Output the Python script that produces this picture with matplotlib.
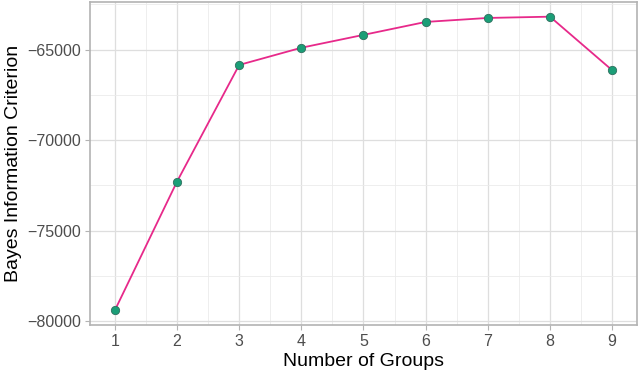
import matplotlib
matplotlib.use("Agg")
import matplotlib.pyplot as plt
from matplotlib.ticker import MultipleLocator, FixedLocator

plt.rcParams['font.family'] = ['Liberation Sans', 'DejaVu Sans']

groups = [1, 2, 3, 4, 5, 6, 7, 8, 9]
bic = [-79398, -72290, -65850, -64900, -64190, -63475, -63255, -63185, -66140]
yticks = [-80000, -75000, -70000, -65000]

fig = plt.figure(figsize=(6.4, 3.75), dpi=100)
ax = fig.add_axes([90/640, 1-325/375, (637-90)/640, (325-2)/375])

rng = max(bic) - min(bic)
ax.set_ylim(min(bic) - 0.05*rng, max(bic) + 0.05*rng)
ax.set_xlim(0.6, 9.4)

ax.xaxis.set_major_locator(FixedLocator(groups))
ax.xaxis.set_minor_locator(FixedLocator([g + 0.5 for g in groups[:-1]]))
ax.yaxis.set_major_locator(FixedLocator(yticks))
ax.yaxis.set_minor_locator(FixedLocator([t + 2500 for t in yticks[:-1]] + [-62500]))

ax.grid(which='major', color='#DEDEDE', linewidth=0.9)
ax.grid(which='minor', color='#EBEBEB', linewidth=0.6)
ax.set_axisbelow(True)

ax.plot(groups, bic, color='#E7298A', linewidth=1.3, zorder=3)
ax.plot(groups, bic, linestyle='none', marker='o', markersize=6,
        markerfacecolor='#1B9E77', markeredgecolor='#2F6F5F', markeredgewidth=0.6, zorder=4)

for s in ax.spines.values():
    s.set_color('#B3B3B3')
    s.set_linewidth(1.2)

ax.tick_params(which='major', length=3.5, color='#B3B3B3', labelcolor='#4D4D4D',
               labelsize=11.5, pad=3)
ax.tick_params(which='minor', length=0)
ax.set_yticklabels(['\u221280000', '\u221275000', '\u221270000', '\u221265000'])

ax.set_xlabel('Number of Groups', fontsize=14, color='black', labelpad=3)
ax.set_ylabel('Bayes Information Criterion', fontsize=14, color='black', labelpad=4)

fig.savefig('out.png', dpi=100)
